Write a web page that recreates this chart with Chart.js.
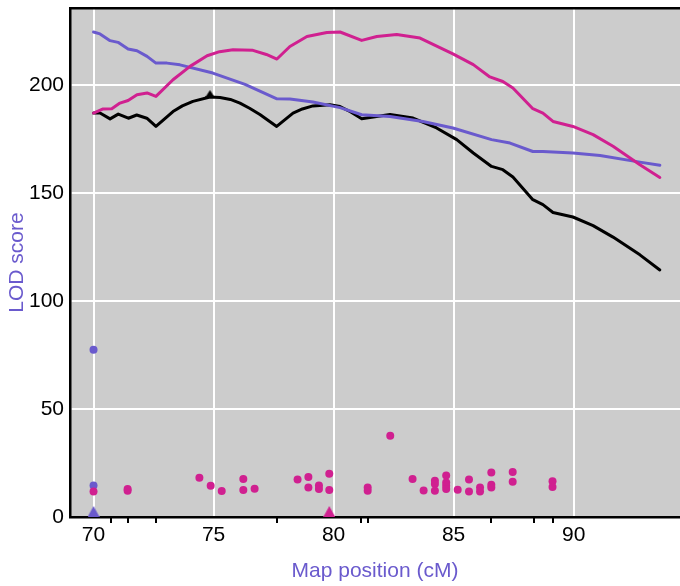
<!DOCTYPE html>
<html>
<head>
<meta charset="utf-8">
<script src="https://cdn.jsdelivr.net/npm/chart.js@4.4.0/dist/chart.umd.min.js"></script>
<style>
  html, body { margin: 0; padding: 0; background: #fff; }
</style>
</head>
<body>
<canvas id="lod-chart" width="680" height="586"></canvas>
<script>
// Data
const xTicks = [70, 75, 80, 85, 90];
const yTicks = [0, 50, 100, 150, 200];

const blackPos = [70, 70.27, 70.69, 71.03, 71.45, 71.8, 72.22, 72.6, 73.31, 73.7, 74.14, 74.85, 75.27, 75.7, 76.1, 76.5, 76.93, 77.63, 78.31, 78.7, 79.14, 79.85, 80.27, 80.7, 81.17, 82.35, 83.31, 84.29, 85.13, 85.82, 86.58, 87.05, 87.47, 88.3, 88.72, 89.14, 89.97, 90.81, 91.64, 92.76, 93.59];
const blackLod = [186.9, 186.9, 184.2, 186.4, 184.5, 186.0, 184.5, 180.7, 187.6, 190.2, 192.3, 194.3, 194.1, 193.2, 191.5, 189.1, 186.2, 180.7, 186.9, 188.8, 190.2, 190.7, 189.9, 187.5, 184.3, 186.2, 184.6, 180.0, 174.6, 168.4, 162.2, 160.7, 157.3, 146.8, 144.5, 140.9, 138.8, 134.8, 129.5, 121.3, 114.3];

const purplePos = [70, 70.27, 70.69, 71.02, 71.44, 71.81, 72.23, 72.6, 73.06, 73.6, 74.97, 76.31, 77.64, 78.18, 79.14, 80.27, 81.17, 82.35, 83.72, 84.97, 86.58, 87.35, 88.3, 88.72, 89.97, 91.1, 92.76, 93.59];
const purpleLod = [224.4, 223.5, 220.4, 219.6, 216.5, 215.7, 213.1, 210.0, 210.0, 209.2, 205.4, 200.2, 193.5, 193.4, 192.0, 189.4, 186.1, 185.3, 183.0, 180.0, 174.6, 173.0, 169.1, 169.1, 168.4, 167.3, 164.2, 162.7];

const magentaPos = [70, 70.4, 70.76, 71.1, 71.44, 71.81, 72.23, 72.6, 73.31, 74.02, 74.73, 75.25, 75.81, 76.64, 77.2, 77.64, 78.18, 78.89, 79.72, 80.27, 81.17, 81.8, 82.63, 83.6, 84.97, 85.82, 86.51, 87.05, 87.47, 88.3, 88.72, 89.14, 89.97, 90.81, 91.64, 92.76, 93.59];
const magentaLod = [186.9, 188.8, 188.9, 191.5, 192.7, 195.4, 196.2, 194.6, 202.3, 208.5, 213.4, 215.3, 216.2, 215.9, 214.0, 211.9, 217.7, 222.3, 224.2, 224.4, 220.5, 222.3, 223.2, 221.6, 214.3, 209.3, 203.6, 201.5, 198.5, 188.9, 186.9, 183.0, 180.7, 176.9, 171.5, 163.0, 157.1];

const purpleDotPos = [70, 70];
const purpleDotLod = [77.4, 14.6];

const magentaDotPos = [70, 71.42, 71.42, 74.41, 74.88, 75.34, 76.24, 76.24, 76.71, 78.5, 78.95, 78.95, 79.39, 79.39, 79.82, 79.82, 81.42, 81.42, 82.36, 83.29, 83.75, 84.22, 84.22, 84.22, 84.69, 84.69, 84.69, 84.69, 85.17, 85.64, 85.64, 86.1, 86.1, 86.57, 86.57, 86.57, 87.46, 87.46, 89.12, 89.12];
const magentaDotLod = [11.8, 12.2, 13.0, 18.2, 14.5, 12.0, 17.6, 12.5, 13.1, 17.3, 18.5, 13.6, 14.6, 13.0, 20.0, 12.5, 13.7, 12.2, 37.6, 17.6, 12.3, 16.8, 15.3, 12.2, 19.2, 16.0, 14.5, 13.0, 12.6, 17.3, 11.8, 13.7, 11.8, 20.6, 14.9, 13.7, 20.8, 16.3, 16.5, 13.9];

const peakPos = { black: 74.85, purple: 70, magenta: 79.82 };
const peakLod = { black: 194.3, purple: 0, magenta: 0 };

const markerPos = [70.73, 71.42, 72.59, 77.63, 81.13, 81.42, 86.54, 88.35, 89.12];

// Style
const SLATE = "#6a5acd";
const VIOLET = "#d02090";
const FONT = "'Liberation Sans', Arial, sans-serif";
const X_MIN = 69.02;
const X_MAX = 94.43;

function toPoints(xs, ys) {
  return xs.map((x, i) => ({ x: x, y: ys[i] }));
}

// triangle sitting on top of its point (lower half of the image is empty)
function makeTriangle(color, width, height) {
  const c = document.createElement("canvas");
  c.width = width;
  c.height = height * 2;
  const g = c.getContext("2d");
  g.fillStyle = color;
  g.beginPath();
  g.moveTo(width / 2, 0);
  g.lineTo(width, height);
  g.lineTo(0, height);
  g.closePath();
  g.fill();
  return c;
}

// short tick hanging below the axis
function makeRugTick() {
  const c = document.createElement("canvas");
  c.width = 2;
  c.height = 12;
  const g = c.getContext("2d");
  g.fillStyle = "#000";
  g.fillRect(0, 6, 2, 6);
  return c;
}

function lineDataset(xs, ys, color, order) {
  return {
    data: toPoints(xs, ys),
    showLine: true,
    borderColor: color,
    borderWidth: 3,
    borderJoinStyle: "round",
    borderCapStyle: "round",
    pointRadius: 0,
    tension: 0,
    order: order,
  };
}

function dotDataset(xs, ys, color, order) {
  return {
    data: toPoints(xs, ys),
    showLine: false,
    backgroundColor: color,
    borderWidth: 0,
    pointRadius: 4,
    order: order,
  };
}

function imageDataset(xs, ys, image, order) {
  return {
    data: toPoints(xs, ys),
    showLine: false,
    pointStyle: image,
    pointRadius: 6,
    clip: false,
    order: order,
  };
}

const plotBackground = {
  id: "plotBackground",
  beforeDraw(chart) {
    const { ctx, chartArea } = chart;
    ctx.save();
    ctx.fillStyle = "#cccccc";
    ctx.fillRect(chartArea.left, chartArea.top, chartArea.right - chartArea.left, chartArea.bottom - chartArea.top);
    ctx.restore();
  },
};

const tickFont = { family: FONT, size: 21 };

new Chart(document.getElementById("lod-chart"), {
  type: "scatter",
  data: {
    datasets: [
      lineDataset(blackPos, blackLod, "#000", 10),
      lineDataset(purplePos, purpleLod, SLATE, 9),
      lineDataset(magentaPos, magentaLod, VIOLET, 8),
      dotDataset(purpleDotPos, purpleDotLod, SLATE, 7),
      dotDataset(magentaDotPos, magentaDotLod, VIOLET, 6),
      imageDataset([peakPos.black], [peakLod.black], makeTriangle("#000", 9, 7), 5),
      imageDataset([peakPos.purple], [peakLod.purple], makeTriangle(SLATE, 12, 11), 5),
      imageDataset([peakPos.magenta], [peakLod.magenta], makeTriangle(VIOLET, 12, 11), 5),
      imageDataset(markerPos, markerPos.map(() => 0), makeRugTick(), 4),
    ],
  },
  options: {
    responsive: false,
    animation: false,
    devicePixelRatio: 1,
    layout: { padding: 0, autoPadding: false },
    plugins: {
      legend: { display: false },
      tooltip: { enabled: false },
    },
    events: [],
    scales: {
      x: {
        type: "linear",
        position: "bottom",
        min: X_MIN,
        max: X_MAX,
        afterBuildTicks: (scale) => {
          scale.ticks = xTicks.map((v) => ({ value: v }));
        },
        afterFit: (scale) => {
          scale.height = 69;
          scale.paddingLeft = 0;
          scale.paddingRight = 0;
        },
        grid: { color: "#fff", lineWidth: 2, drawTicks: false },
        border: { color: "#000", width: 2.5 },
        ticks: { color: "#000", font: tickFont, padding: 6, maxRotation: 0, autoSkip: false },
        title: {
          display: true,
          text: "Map position (cM)",
          color: SLATE,
          font: tickFont,
          padding: { top: 0, bottom: 2.4 },
        },
      },
      xTop: {
        type: "linear",
        position: "top",
        min: X_MIN,
        max: X_MAX,
        grid: { display: false },
        ticks: { display: false },
        border: { color: "#000", width: 2.5 },
        afterFit: (scale) => {
          scale.height = 8;
          scale.paddingLeft = 0;
          scale.paddingRight = 0;
        },
      },
      y: {
        type: "linear",
        position: "left",
        min: 0,
        max: 235.5,
        afterBuildTicks: (scale) => {
          scale.ticks = yTicks.map((v) => ({ value: v }));
        },
        afterFit: (scale) => {
          scale.width = 70;
          scale.paddingTop = 0;
          scale.paddingBottom = 0;
        },
        grid: {
          color: (ctx) => (ctx.tick && ctx.tick.value === 0 ? "rgba(0,0,0,0)" : "#fff"),
          lineWidth: 2,
          drawTicks: false,
        },
        border: { color: "#000", width: 2.5 },
        ticks: { color: "#000", font: tickFont, padding: 6 },
        title: {
          display: true,
          text: "LOD score",
          color: SLATE,
          font: tickFont,
          padding: { top: 5, bottom: 0 },
        },
      },
    },
  },
  plugins: [plotBackground],
});
</script>
</body>
</html>
